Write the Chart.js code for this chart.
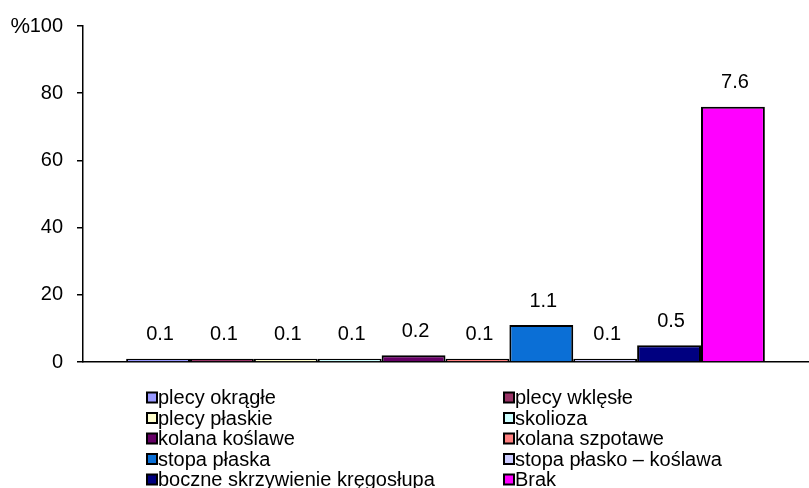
<!DOCTYPE html>
<html>
<head>
<meta charset="utf-8">
<script src="https://cdn.jsdelivr.net/npm/chart.js@4/dist/chart.umd.min.js"></script>
<style>
  html, body { margin: 0; padding: 0; background: #fff; }
  #wrap { width: 809px; height: 488px; position: relative; overflow: hidden; }
</style>
</head>
<body>
<div id="wrap"><canvas id="c" width="809" height="488"></canvas></div>
<script>
// Series (one bar each) in legend order
const seriesNames = [
  'plecy okrągłe', 'plecy wklęsłe',
  'plecy płaskie', 'skolioza',
  'kolana koślawe', 'kolana szpotawe',
  'stopa płaska', 'stopa płasko – koślawa',
  'boczne skrzywienie kręgosłupa', 'Brak'
];
const seriesValues = [0.1, 0.1, 0.1, 0.1, 0.2, 0.1, 1.1, 0.1, 0.5, 7.6];
const seriesColors = [
  '#9999FF', '#993366', '#FFFFCC', '#CCFFFF', '#660066',
  '#FF8080', '#0B6FD6', '#CCCCFF', '#000080', '#FF00FF'
];
const yTickLabels = ['0', '20', '40', '60', '80', '100'];
const axisUnit = '%';

const FONT = '"Liberation Sans", Arial, sans-serif';
const FONT_SIZE = 20;

const datasets = seriesNames.map((name, i) => ({
  label: name,
  data: [seriesValues[i]],
  backgroundColor: seriesColors[i],
  borderColor: '#000',
  borderWidth: 2,
  barPercentage: 1,
  categoryPercentage: 0.881
}));

// Value labels above each bar, unit mark beside the top tick, two-column legend
const decorations = {
  id: 'decorations',
  afterDatasetsDraw(chart) {
    const ctx = chart.ctx;
    ctx.save();
    ctx.fillStyle = '#000';
    ctx.font = FONT_SIZE + 'px ' + FONT;
    ctx.textAlign = 'center';
    ctx.textBaseline = 'middle';
    chart.data.datasets.forEach((ds, i) => {
      const bar = chart.getDatasetMeta(i).data[0];
      ctx.fillText(ds.data[0].toFixed(1), bar.x + 2, bar.y - 24);
    });

    const y = chart.scales.y;
    ctx.textAlign = 'right';
    ctx.font = (FONT_SIZE + 2) + 'px ' + FONT;
    ctx.fillText(axisUnit, 30, y.getPixelForValue(y.max) + 1);

    // legend: rows of two
    ctx.font = FONT_SIZE + 'px ' + FONT;
    const colX = [147, 504];
    const rowY0 = 397.5, rowStep = 20.5;
    ctx.textAlign = 'left';
    chart.data.datasets.forEach((ds, i) => {
      const cx = colX[i % 2];
      const cy = rowY0 + Math.floor(i / 2) * rowStep;
      ctx.fillStyle = ds.backgroundColor;
      ctx.fillRect(cx, cy - 5, 10, 10);
      ctx.lineWidth = 2;
      ctx.strokeStyle = '#000';
      ctx.strokeRect(cx, cy - 5, 10, 10);
      ctx.fillStyle = '#000';
      ctx.fillText(ds.label, cx + 11, cy + 1);
    });
    ctx.restore();
  }
};

new Chart(document.getElementById('c'), {
  type: 'bar',
  data: { labels: [''], datasets },
  options: {
    responsive: false,
    animation: false,
    layout: { padding: { left: 0, right: 1, top: 25, bottom: 126 } },
    plugins: { legend: { display: false }, tooltip: { enabled: false } },
    scales: {
      x: {
        grid: { display: false },
        ticks: { display: false },
        border: { display: true, color: '#000', width: 1.5 },
        afterFit(s) { s.height = 0; }
      },
      y: {
        min: 0,
        max: 10,
        ticks: {
          stepSize: 2,
          padding: 14,
          color: '#000',
          font: { family: FONT, size: FONT_SIZE },
          callback: (v, idx) => yTickLabels[idx]
        },
        grid: { drawOnChartArea: false, drawTicks: true, tickLength: 6, color: '#000', lineWidth: 1.5 },
        border: { display: true, color: '#000', width: 1.5 },
        afterFit(s) { s.width = 83; }
      }
    }
  },
  plugins: [decorations]
});
</script>
</body>
</html>
